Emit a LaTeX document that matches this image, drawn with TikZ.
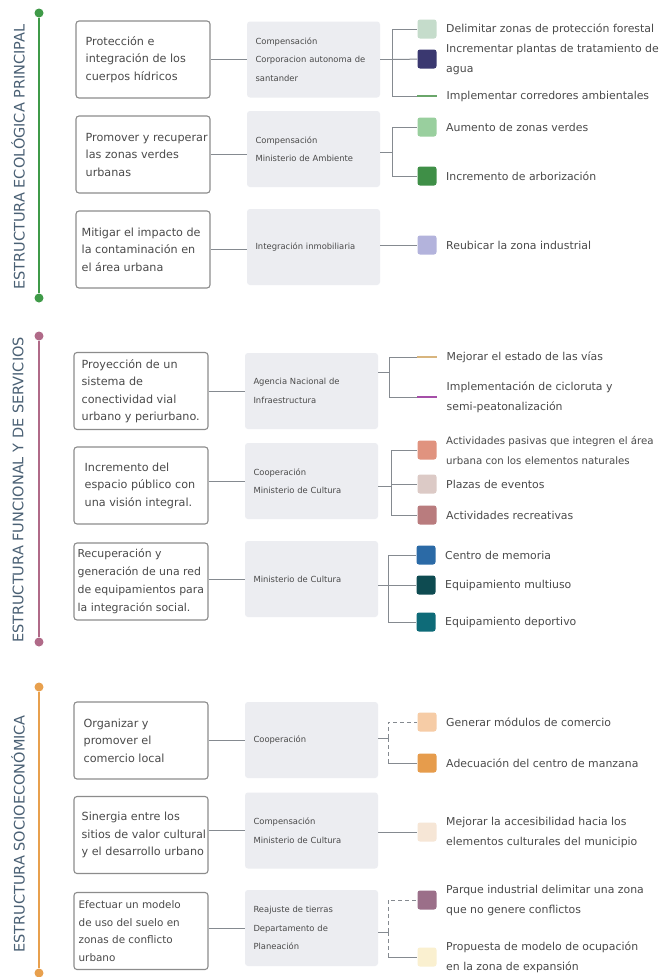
\documentclass[tikz,border=0pt]{standalone}
\usepackage{fontspec}
\setmainfont{DejaVu Sans}
\usetikzlibrary{positioning}
\definecolor{eco_green}{HTML}{3F9A48}
\definecolor{fun_mauve}{HTML}{B06A88}
\definecolor{soc_orange}{HTML}{E8A04E}
\definecolor{title_slate}{HTML}{4A6074}
\definecolor{box_line}{HTML}{8C8C8C}
\definecolor{panel_fill}{HTML}{ECEDF1}
\definecolor{link_gray}{HTML}{858A90}
\definecolor{body_text}{HTML}{4A4A4A}
\definecolor{sq_forest}{HTML}{C5DCCB}
\definecolor{sq_water}{HTML}{3A3870}
\definecolor{sq_corridor}{HTML}{6AA66A}
\definecolor{sq_green}{HTML}{99CF9E}
\definecolor{sq_tree}{HTML}{3F8F47}
\definecolor{sq_industry}{HTML}{B3B3DC}
\definecolor{sq_road}{HTML}{D8B57E}
\definecolor{sq_bike}{HTML}{A54FA8}
\definecolor{sq_passive}{HTML}{E0937F}
\definecolor{sq_square}{HTML}{DCCAC6}
\definecolor{sq_leisure}{HTML}{B97C7E}
\definecolor{sq_memory}{HTML}{2B6AA6}
\definecolor{sq_multi}{HTML}{0E4B51}
\definecolor{sq_sport}{HTML}{0E6B78}
\definecolor{sq_module}{HTML}{F6CCA6}
\definecolor{sq_block}{HTML}{E69C4C}
\definecolor{sq_access}{HTML}{F6E6D6}
\definecolor{sq_park}{HTML}{9B6F89}
\definecolor{sq_model}{HTML}{FAF0D0}

\tikzset{
  goal/.style={draw=box_line, line width=1.1pt, rounded corners=3pt, fill=white,
    minimum width=134pt, minimum height=77pt, inner sep=0pt},
  goaltext/.style={anchor=west, xshift=#1, inner sep=0pt, align=left,
    text=body_text, font=\fontsize{11.2}{17.5}\selectfont},
  goaltext/.default=8pt,
  actor/.style={fill=panel_fill, rounded corners=3pt, minimum width=133pt,
    minimum height=76pt, text width=116pt, inner xsep=8.5pt, align=left,
    text=body_text, font=\fontsize{8.4}{18.5}\selectfont},
  chip/.style={fill=#1, rounded corners=2.5pt, minimum size=19pt, inner sep=0pt},
  bar/.style={fill=#1, minimum width=20pt, minimum height=2.5pt, inner sep=0pt},
  item/.style={right=6pt of #1, align=left, text=body_text,
    font=\fontsize{10.9}{20}\selectfont},
  dot/.style={circle, fill=#1, minimum size=9pt, inner sep=0pt},
  spine/.style={draw=#1, line width=1.8pt},
  title/.style={rotate=90, text=title_slate, font=\fontsize{14.5}{14.5}\selectfont},
  link/.style={draw=link_gray, line width=1pt},
  dlink/.style={link, dash pattern=on 4pt off 3pt}
}

\begin{document}
\begin{tikzpicture}[x=1pt,y=-1pt]
\useasboundingbox[fill=white] (0,0) rectangle (664,977);

% estructura ecologica principal
\node[dot=eco_green] (e0) at (39,13) {};
\node[dot=eco_green] (e1) at (39,298) {};
\draw[spine=eco_green] (e0) -- (e1);
\node[title] (t1) at (18,157) {ESTRUCTURA ECOLÓGICA PRINCIPAL};

\node[goal] (b11) at (143,59.5) {};
\node[goal] (b12) at (143,154.5) {};
\node[goal] (b13) at (143,249.5) {};
\node[goaltext=10pt] (g11) at (b11.west) {Protección e\\integración de los\\cuerpos hídricos};
\node[goaltext=10pt] (g12) at (b12.west) {Promover y recuperar\\las zonas verdes\\urbanas};
\node[goaltext=6pt] (g13) at (b13.west) {Mitigar el impacto de\\la contaminación en\\el área urbana};
\node[actor] (a11) at (313.5,59.5) {Compensación\\Corporacion autonoma de\\santander};
\node[actor] (a12) at (313.5,149) {Compensación\\Ministerio de Ambiente};
\node[actor] (a13) at (313.5,247) {Integración inmobiliaria};
\foreach \i in {11,12,13}
  \draw[link] (b\i) -- (b\i.east -| a\i.west);

\coordinate (k11) at (392,59.5);
\coordinate (k12) at (392,152);
\node[chip=sq_forest] (s11) at (427,29) {};
\node[chip=sq_water] (s12) at (427,59) {};
\node[bar=sq_corridor] (s13) at (427,96) {};
\node[chip=sq_green] (s14) at (427,127) {};
\node[chip=sq_tree] (s15) at (427,176) {};
\node[chip=sq_industry] (s16) at (427,245) {};
\node[item=s11] (l11) {Delimitar zonas de protección forestal};
\node[item=s12] (l12) {Incrementar plantas de tratamiento de\\agua};
\node[item=s13] (l13) {Implementar corredores ambientales};
\node[item=s14] (l14) {Aumento de zonas verdes};
\node[item=s15] (l15) {Incremento de arborización};
\node[item=s16] (l16) {Reubicar la zona industrial};
\draw[link] (a11) -- (k11);
\draw[link] (k11) |- (s11);
\draw[link] (k11) -- (s12);
\draw[link] (k11) |- (s13);
\draw[link] (a12.east |- k12) -- (k12);
\draw[link] (k12) |- (s14);
\draw[link] (k12) |- (s15);
\draw[link] (a13.east |- s16) -- (s16);

% estructura funcional y de servicios
\node[dot=fun_mauve] (f0) at (39,336) {};
\node[dot=fun_mauve] (f1) at (39,642) {};
\draw[spine=fun_mauve] (f0) -- (f1);
\node[title] (t2) at (18,490) {ESTRUCTURA FUNCIONAL Y DE SERVICIOS};

\node[goal] (b21) at (141,391) {};
\node[goal] (b22) at (141,485.5) {};
\node[goal] (b23) at (141,581.5) {};
\node[goaltext] (g21) at (b21.west) {Proyección de un\\sistema de\\conectividad vial\\urbano y periurbano.};
\node[goaltext=11pt] (g22) at (b22.west) {Incremento del\\espacio público con\\una visión integral.};
\node[goaltext=4pt, font=\fontsize{10.9}{18}\selectfont] (g23) at (b23.west) {Recuperación y\\generación de una red\\de equipamientos para\\la integración social.};
\node[actor] (a21) at (311.5,391) {Agencia Nacional de\\Infraestructura};
\node[actor] (a22) at (311.5,481) {Cooperación\\Ministerio de Cultura};
\node[actor] (a23) at (311.5,579) {Ministerio de Cultura};
\foreach \i in {21,22,23}
  \draw[link] (a\i.west -| b\i.east) -- (a\i.west);

\coordinate (k21) at (389,372);
\coordinate (k22) at (391,486);
\coordinate (k23) at (388,585);
\node[bar=sq_road] (s21) at (427,357) {};
\node[bar=sq_bike] (s22) at (427,397) {};
\node[chip=sq_passive] (s23) at (427,450) {};
\node[chip=sq_square] (s24) at (427,484) {};
\node[chip=sq_leisure] (s25) at (427,515) {};
\node[chip=sq_memory] (s26) at (426,555) {};
\node[chip=sq_multi] (s27) at (426,585) {};
\node[chip=sq_sport] (s28) at (426,622) {};
\node[item=s21] (l21) {Mejorar el estado de las vías};
\node[item=s22] (l22) {Implementación de cicloruta y\\semi-peatonalización};
\node[item=s23, font=\fontsize{10.2}{20}\selectfont] (l23) {Actividades pasivas que integren el área\\urbana con los elementos naturales};
\node[item=s24] (l24) {Plazas de eventos};
\node[item=s25] (l25) {Actividades recreativas};
\node[item=s26] (l26) {Centro de memoria};
\node[item=s27] (l27) {Equipamiento multiuso};
\node[item=s28] (l28) {Equipamiento deportivo};
\draw[link] (a21.east |- k21) -- (k21);
\draw[link] (k21) |- (s21);
\draw[link] (k21) |- (s22);
\draw[link] (a22.east |- k22) -- (k22);
\draw[link] (k22) |- (s23);
\draw[link] (k22) |- (s24);
\draw[link] (k22) |- (s25);
\draw[link] (a23.east |- k23) -- (k23);
\draw[link] (k23) |- (s26);
\draw[link] (k23) -- (s27);
\draw[link] (k23) |- (s28);

% estructura socioeconomica
\node[dot=soc_orange] (o0) at (39,687) {};
\node[dot=soc_orange] (o1) at (39,973) {};
\draw[spine=soc_orange] (o0) -- (o1);
\node[title] (t3) at (18,834) {ESTRUCTURA SOCIOECONÓMICA};

\node[goal] (b31) at (141,740.5) {};
\node[goal] (b32) at (141,835) {};
\node[goal] (b33) at (141,931) {};
\node[goaltext=10pt] (g31) at (b31.west) {Organizar y\\promover el\\comercio local};
\node[goaltext] (g32) at (b32.west) {Sinergia entre los\\sitios de valor cultural\\y el desarrollo urbano};
\node[goaltext=5pt, font=\fontsize{10.4}{17.5}\selectfont] (g33) at (b33.west) {Efectuar un modelo\\de uso del suelo en\\zonas de conflicto\\urbano};
\node[actor] (a31) at (311.5,740) {Cooperación};
\node[actor] (a32) at (311.5,830.5) {Compensación\\Ministerio de Cultura};
\node[actor] (a33) at (311.5,928) {Reajuste de tierras\\Departamento de\\Planeación};
\foreach \i in {31,32,33}
  \draw[link] (a\i.west -| b\i.east) -- (a\i.west);

\coordinate (k31) at (388,738);
\coordinate (k33) at (388,932);
\node[chip=sq_module] (s31) at (427,722) {};
\node[chip=sq_block] (s32) at (427,763) {};
\node[chip=sq_access] (s33) at (427,832) {};
\node[chip=sq_park] (s34) at (427,900) {};
\node[chip=sq_model] (s35) at (427,957) {};
\node[item=s31] (l31) {Generar módulos de comercio};
\node[item=s32] (l32) {Adecuación del centro de manzana};
\node[item=s33] (l33) {Mejorar la accesibilidad hacia los\\elementos culturales del municipio};
\node[item=s34] (l34) {Parque industrial delimitar una zona\\que no genere conflictos};
\node[item=s35] (l35) {Propuesta de modelo de ocupación\\en la zona de expansión};
\draw[link] (a31.east |- k31) -- (k31);
\draw[dlink] (k31) |- (s31);
\draw[dlink] (k31) -- (k31 |- s32);
\draw[link] (k31 |- s32) -- (s32);
\draw[link] (a32.east |- s33) -- (s33);
\draw[link] (a33.east |- k33) -- (k33);
\draw[dlink] (k33) |- (s34);
\draw[dlink] (k33) -- (k33 |- s35);
\draw[link] (k33 |- s35) -- (s35);
\end{tikzpicture}
\end{document}
